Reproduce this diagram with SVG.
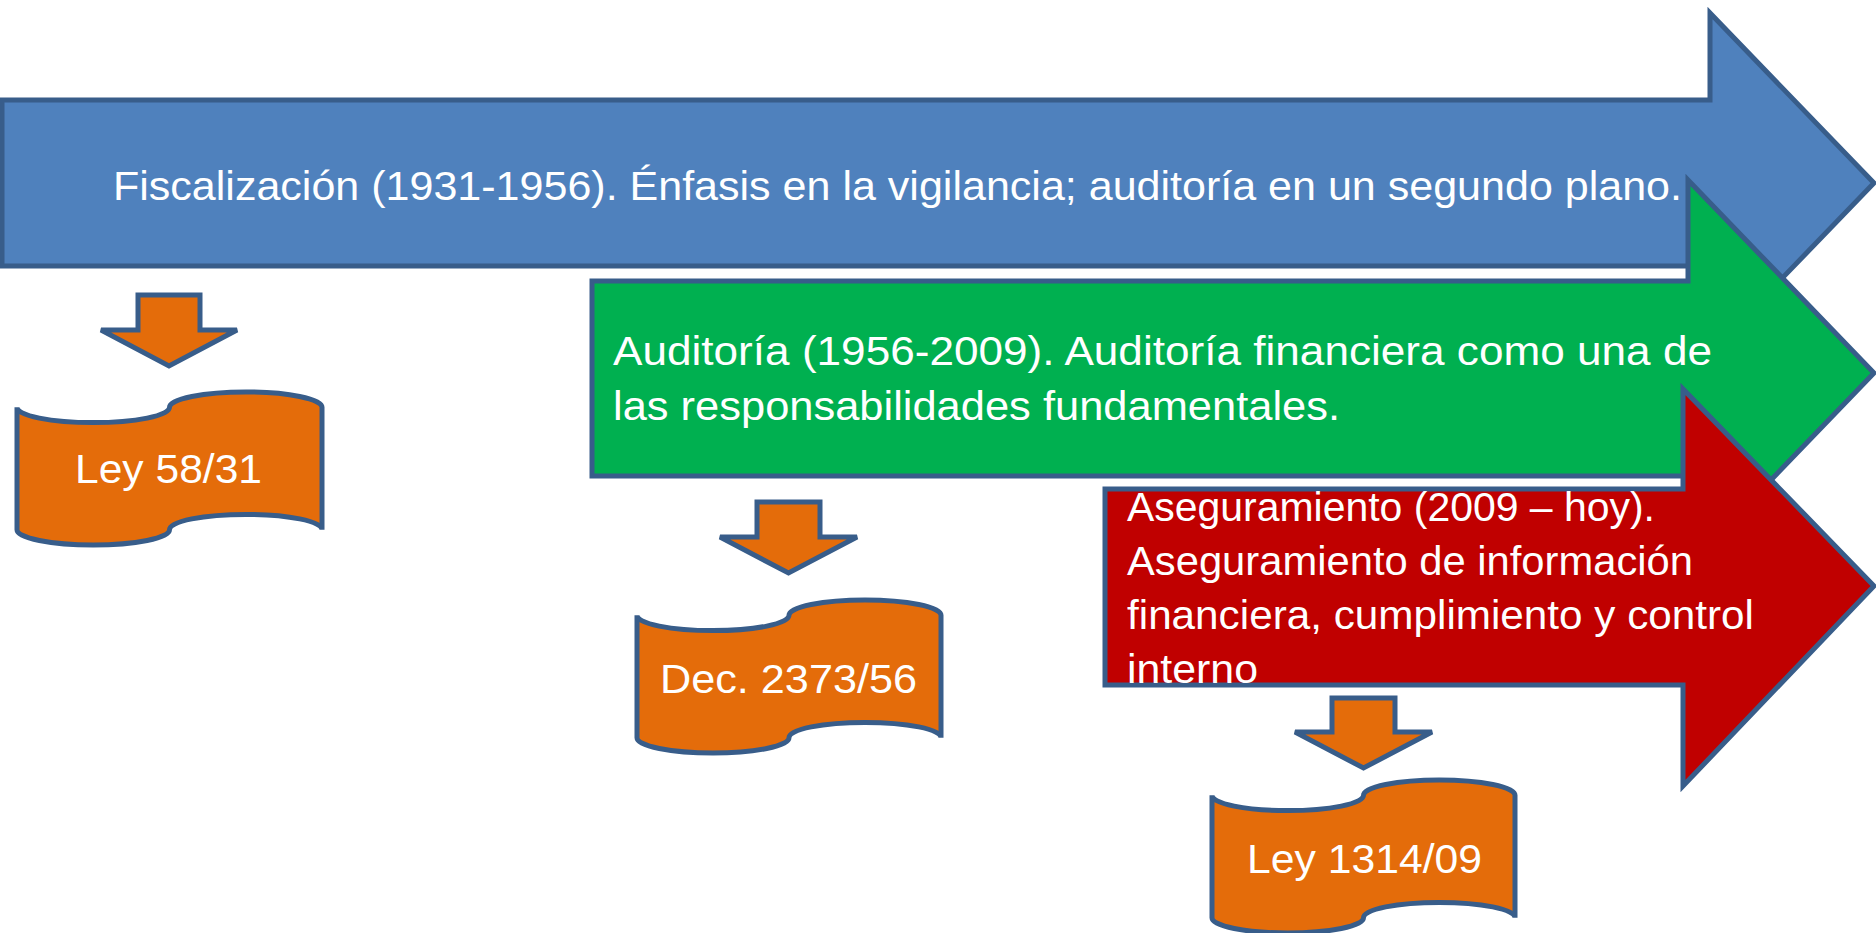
<svg xmlns="http://www.w3.org/2000/svg" width="1876" height="933" viewBox="0 0 1876 933">
<style>
.edge{stroke:#385D8A;stroke-width:5;stroke-linejoin:miter}
.blue{fill:#4F81BD}
.green{fill:#00B050}
.red{fill:#C00000}
.orange{fill:#E46C0A}
.t{font-family:"Liberation Sans",Arial,sans-serif;font-size:41px;fill:#FFFFFF}
</style>
<rect width="1876" height="933" fill="#FFFFFF"/>
<g id="fiscalizacion">
<polygon class="edge blue" points="2,100 1710,100 1710,13 1874,183 1710,353 1710,266 2,266"/>
<text class="t" x="113" y="200" textLength="1569" lengthAdjust="spacingAndGlyphs">Fiscalización (1931-1956). Énfasis en la vigilancia; auditoría en un segundo plano.</text>
</g>
<g id="auditoria">
<polygon class="edge green" points="592,281 1688,281 1688,180 1874,373 1688,566 1688,476 592,476"/>
<text class="t" x="613" y="365" textLength="1099" lengthAdjust="spacingAndGlyphs">Auditoría (1956-2009). Auditoría financiera como una de</text>
<text class="t" x="613" y="420" textLength="727" lengthAdjust="spacingAndGlyphs">las responsabilidades fundamentales.</text>
</g>
<g id="aseguramiento">
<polygon class="edge red" points="1105,489 1683,489 1683,389 1874,586 1683,786 1683,685 1105,685"/>
<text class="t" x="1127" y="521" textLength="528" lengthAdjust="spacingAndGlyphs">Aseguramiento (2009 – hoy).</text>
<text class="t" x="1127" y="575" textLength="566" lengthAdjust="spacingAndGlyphs">Aseguramiento de información</text>
<text class="t" x="1127" y="629" textLength="627" lengthAdjust="spacingAndGlyphs">financiera, cumplimiento y control</text>
<text class="t" x="1127" y="683" textLength="131" lengthAdjust="spacingAndGlyphs">interno</text>
</g>
<g id="connectors">
<polygon class="edge orange" points="138,295 200,295 200,330 237,330 169,366 101,330 138,330"/>
<polygon class="edge orange" points="757,502 820,502 820,537 857,537 788.5,573 720,537 757,537"/>
<polygon class="edge orange" points="1332,698 1395,698 1395,732 1432,732 1363.5,768 1295,732 1332,732"/>
</g>
<g id="ley-58-31">
<path class="edge orange" d="M17,407.3 A76.25,15.3 0 0 0 169.5,407.3 A76.25,15.3 0 0 1 322,407.3 L322,529.7 A76.25,15.3 0 0 0 169.5,529.7 A76.25,15.3 0 0 1 17,529.7 Z"/>
<text class="t" x="75" y="483" textLength="187" lengthAdjust="spacingAndGlyphs">Ley 58/31</text>
</g>
<g id="dec-2373-56">
<path class="edge orange" d="M637,615.3 A76,15.3 0 0 0 789,615.3 A76,15.3 0 0 1 941,615.3 L941,737.7 A76,15.3 0 0 0 789,737.7 A76,15.3 0 0 1 637,737.7 Z"/>
<text class="t" x="660" y="693" textLength="257" lengthAdjust="spacingAndGlyphs">Dec. 2373/56</text>
</g>
<g id="ley-1314-09">
<path class="edge orange" d="M1212,795.3 A75.75,15.3 0 0 0 1363.5,795.3 A75.75,15.3 0 0 1 1515,795.3 L1515,917.7 A75.75,15.3 0 0 0 1363.5,917.7 A75.75,15.3 0 0 1 1212,917.7 Z"/>
<text class="t" x="1247" y="873" textLength="235" lengthAdjust="spacingAndGlyphs">Ley 1314/09</text>
</g>
</svg>
